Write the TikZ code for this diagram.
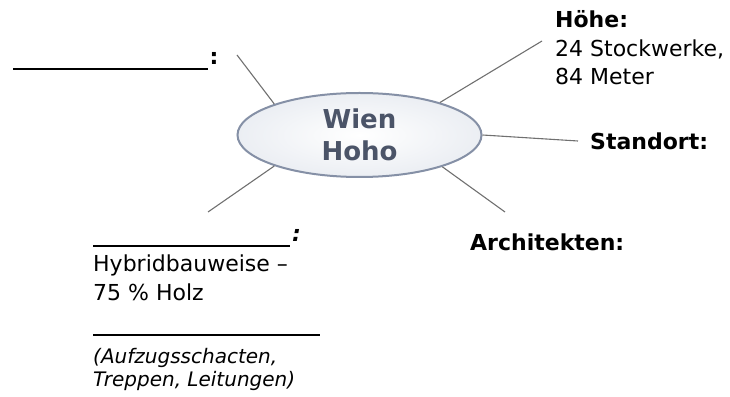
\documentclass[tikz,border=0pt]{standalone}
\usepackage{fontspec}
\setmainfont{DejaVu Sans}
\usetikzlibrary{shapes.geometric}
\definecolor{spoke}{HTML}{707070}
\definecolor{rim}{HTML}{8590A6}
\definecolor{hubtext}{HTML}{4B5468}
\definecolor{hubedge}{HTML}{EBEEF3}
\tikzset{
  hub/.style={ellipse, draw=rim, line width=2pt, inner color=white, outer color=hubedge,
    minimum width=244pt, minimum height=84pt, inner sep=0pt, align=center,
    text=hubtext, font=\fontsize{26}{32}\selectfont\bfseries},
  spokeline/.style={draw=spoke, line width=1.1pt},
  lbl/.style={anchor=base west, inner sep=0pt, font=\fontsize{22}{28}\selectfont},
  blbl/.style={anchor=base west, inner sep=0pt, font=\fontsize{22}{28}\selectfont\bfseries},
  ilbl/.style={anchor=base west, inner sep=0pt, font=\fontsize{20}{24}\selectfont\itshape},
  blank/.style={line width=2.2pt, black},
}
\begin{document}
\begin{tikzpicture}[x=1pt,y=1pt]
\useasboundingbox (0,0) rectangle (730,396);
\node[hub] (e) at (359.5,261) {Wien\\Hoho};

% outer ends of the spokes
\coordinate (ul) at (237,341);
\coordinate (ur) at (542,355);
\coordinate (r) at (578,255);
\coordinate (lr) at (505,184);
\coordinate (ll) at (208,184);
\draw[spokeline] (ul) -- (e.160);
\draw[spokeline] (ur) -- (e.22);
\draw[spokeline] (r) -- (e.0);
\draw[spokeline] (lr) -- (e.-21);
\draw[spokeline] (ll) -- (e.-160);

% top-left blank
\coordinate (b1a) at (13,327);
\coordinate (b1b) at (208,327);
\draw[blank] (b1a) -- (b1b);
\node[blbl] (c1) at (209.5,331) {:};

% Hoehe
\node[blbl] (hoehe) at (555,368) {Höhe:};
\node[lbl] (stock) at (555,339) {24 Stockwerke,};
\node[lbl] (meter) at (555,311) {84 Meter};

% Standort
\node[blbl] (standort) at (590,246) {Standort:};

% Architekten
\node[blbl] (arch) at (470,145) {Architekten:};

% lower-left blank
\coordinate (b2a) at (93,150);
\coordinate (b2b) at (290,150);
\draw[blank] (b2a) -- (b2b);
\node[blbl, font=\fontsize{22}{28}\selectfont\bfseries\itshape] (c2) at (292,154) {:};
\node[lbl] (hyb) at (93,124) {Hybridbauweise –};
\node[lbl] (holz) at (93,95) {75 \% Holz};
\coordinate (b3a) at (93,61);
\coordinate (b3b) at (320,61);
\draw[line width=1.6pt] (b3a) -- (b3b);
\node[ilbl] (auf) at (93,33) {(Aufzugsschacten,};
\node[ilbl] (trep) at (93,10) {Treppen, Leitungen)};
\end{tikzpicture}
\end{document}
